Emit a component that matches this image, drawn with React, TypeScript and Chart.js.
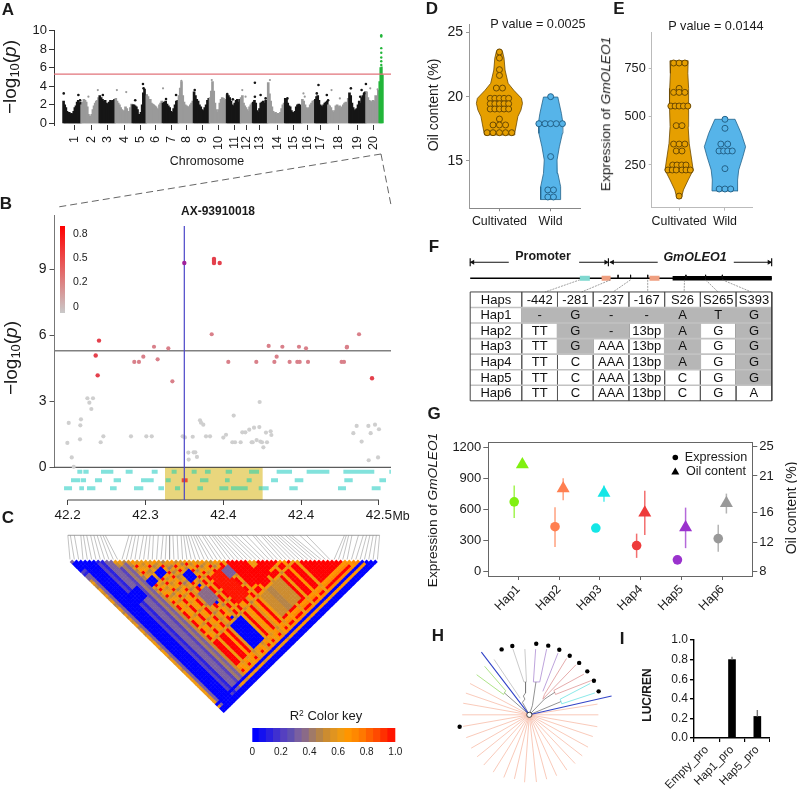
import React, { useEffect, useRef } from 'react';
import { Chart, registerables } from 'chart.js';
Chart.register(...registerables);
Chart.defaults.font.family = "'Liberation Sans', Arial, sans-serif";
Chart.defaults.color = '#1a1a1a';

// ---------- A: Manhattan ----------
const chromLabels = ['1','2','3','4','5','6','7','8','9','10','11','12','13','14','15','16','17','18','19','20'];
const chromTicks = [74,91,107,124,140,155,171,186,202,218,234,246,259,277,293,307,320,338,357,373];
const chromEdges = [63,81,99,115,132,146,162,178,193,209,226,240,252,267,284,301,314,327,348,365,378];
const chromPeaks = [
  [2.4,2.0,1.7,1.3,1.1,1.2,1.0,1.1,1.0,1.3,1.7,1.9,2.3,2.5,2.2,2.3],
  [2.0,2.3,2.6,2.5,2.3,1.8,1.0,0.8,0.8,1.0,1.5,1.9,2.2,2.4,2.5,2.8],
  [3.0,2.8,2.6,2.4,2.5,2.2,2.1,2.3,2.5,2.4,2.5,2.6],
  [2.7,2.4,2.2,2.0,1.7,1.5,1.2,1.4,1.8,1.6,1.3,1.3,1.7,2.1],
  [2.0,2.0,1.9,1.8,1.5,1.0,0.9,1.2,2.0,3.3,3.7,3.0],
  [3.0,2.9,2.6,2.6,2.2,2.1,2.0,1.9,1.8,1.6,1.5,2.0,2.2,2.4],
  [2.2,2.3,2.4,2.1,1.9,1.7,1.3,1.2,1.6,2.0,2.4,2.5],
  [3.0,3.8,4.5,3.0,2.3,2.0,1.9,1.8,1.8,2.0,2.2,2.4],
  [3.4,3.0,2.6,2.4,2.0,1.8,1.5,1.4,1.7,2.0,2.5,2.7],
  [2.8,3.5,4.5,3.5,2.2,1.5,1.2,1.5,2.2,2.6,2.8,2.7,2.5,2.6],
  [3.1,3.0,2.8,2.4,2.0,1.9,2.2,2.5,2.6,2.3,2.6],
  [2.8,3.0,2.2,1.9,1.7,1.5,1.3,1.8,2.0,2.2],
  [2.3,2.5,2.2,1.4,1.2,1.6,2.2,2.3,2.4,2.2,2.5,2.4],
  [4.4,3.2,2.4,1.8,1.3,1.1,1.2,1.0,1.1,1.0,1.2,1.6,2.0,2.2],
  [2.7,2.6,2.2,1.9,1.8,1.4,1.2,1.1,1.3,1.8,2.0,2.1,2.0,1.8],
  [2.6,2.4,2.0,1.7,1.6,1.7,2.0,2.2,2.4,2.5],
  [2.6,2.9,3.0,2.5,2.0,1.9,1.8,2.0,2.2,2.3,2.4],
  [2.0,1.9,1.7,1.4,1.2,1.4,1.9,2.0,1.8,1.9,1.6,1.8,2.0,2.2,2.3,2.2,2.7],
  [3.3,3.0,2.2,1.7,1.4,1.5,1.6,2.0,2.4,2.2,2.8,3.0,3.2,3.4],
  [3.4,2.8,2.5,2.4,2.3,2.5,2.4,3.0,2.8,3.6],
];
const greenPeaks = [[378.6,4.5],[379.6,6.0],[380.6,6.1],[381.6,5.2]];
const blackDots = [[63.7,3.24],[78.3,3.06],[80,2.5],[102.7,3.06],[135,2.5],[142.7,4.24],[143.3,3.78],[165.7,2.63],[175.7,3.06],[194.3,3.6],[226.7,3.17],[232.3,2.6],[254.3,4.39],[260,3.06],[265,2.7],[254.3,2.88],[286.7,2.7],[317.7,4.14],[316,3.24],[326,3.06],[327.3,2.5],[350,3.78],[360.7,3.6],[365,4.24],[363.3,3.24],[359.3,2.88]];
const greyDots = [[88.3,2.88],[97.7,3.6],[116.7,3.6],[126,3.38],[146.7,3.06],[162.7,3.78],[181,4.6],[211.3,4.68],[241.7,3.6],[245,2.88],[269.3,4.68],[302.7,3.24],[304,2.88],[330.7,3.6],[339,2.7],[369.3,3.78],[376.7,3.67]];
const greenDots = [[380.3,9.5],[380.3,9.35],[380.3,8.1],[380.3,7.6],[380.3,7.1],[380.3,6.7],[380.3,6.3]];
const thresholdA = 5.3;

// ---------- B: locus plot (x in kb from 42.2 Mb) ----------
const locusTicks = [0,75,150,225,300];
const locusLabels = ['42.2','42.3','42.4','42.4','42.5'];
const leadSnp = [[112.4,9.29]];
const topSnps = [[141,9.47],[141,9.38],[141,9.29],[146.5,9.29],[293.3,4.05],[30.2,5.76],[27,5.08],[28.9,4.18]];
const redSnps = [[138.8,6.05],[83.2,5.48],[97,5.41],[86.7,4.91],[72.9,5.03],[64.2,4.79],[68.7,4.79],[100.9,3.91],[154.8,4.79],[181.8,4.79],[193.7,5.52],[206.9,5.48],[222.9,5.48],[229.7,5.41],[201.4,5.03],[199.2,4.79],[213.9,4.79],[221.3,4.79],[223.6,4.79],[231.6,4.79],[264,4.79],[266.3,4.79],[269.2,5.48],[269,5.45],[280.8,6.05]];
const greySnps = [[-0.3,1.11],[1,2.02],[3.9,0.45],[5.8,0.02],[11.9,1.27],[12.2,1.91],[12.8,2.18],[19,3.14],[24.4,3.14],[20.9,2.94],[22.8,2.65],[31.8,1.14],[34.4,1.41],[61,1.41],[75.8,1.41],[81,1.41],[110.8,1.41],[113,1.36],[120.5,1.39],[127.5,2.14],[128.5,2.03],[130.7,1.94],[116.3,0.67],[116.6,0.35],[121.4,0.68],[123,0.68],[124.6,0.47],[133.3,1.41],[137.2,1.41],[150,1.35],[152.6,1.48],[158.7,1.14],[161.3,1.14],[160,2.35],[166.7,1.14],[168.3,1.59],[171.2,1.59],[175,1.71],[177.3,1.14],[178.3,1.14],[179.6,1.8],[182.1,1.24],[184.7,1.83],[185,2.97],[185.7,1.17],[187.3,1.14],[188.6,0.91],[191.1,1.58],[192.1,1.14],[195.6,1.64],[196.3,1.47],[275.3,1.55],[278.5,1.88],[283.3,1.17],[289.8,1.88],[290.1,0.32],[292,1.55],[296.2,1.94],[299.1,0.45],[300,1.73]];
const geneRowLevels = [-0.2,-0.59,-0.95];
const genesOutside = [
  [[9.3,14.1],[15.1,20.2],[32.1,44],[55.9,62.6],[81,86.7],[201.4,216.2],[230.3,252.2],[265.7,295.5],[310,311.5]],
  [[3.2,12.2],[12.8,17.7],[26.3,33.1],[44.3,51.4],[70.7,82.9],[196,202.7],[218.8,227.1],[266.6,274.7],[300.4,306.8]],
  [[-3.5,4.2],[11.2,15.7],[18.6,26.7],[40.8,47.2],[63.9,72.9],[87.4,92.8],[187.9,193.7],[213.6,221.7],[260.5,268.2],[293,301.6]],
];
const genesInside = [
  [[100.2,105],[119.5,124.3],[132.3,137.8],[152.3,158.4],[174.8,184.4]],
  [[94.4,99.3],[127.5,135.6],[151.6,156.1],[172.5,177.3]],
  [[103.4,108.3],[125,130.4],[146.2,154.8],[157.4,173.5],[184.1,187.9]],
];
const targetGene = [[109.9,115.6]];
const blockSpan = [93.8,187.9];
const thresholdB = 5.3;
const r2KeyTicks = [0,0.27,0.53,0.8];
const r2KeyLabels = ['0','0.2','0.5','0.8'];

// ---------- C: LD triangle ----------
const snpPositions = [-3.5,-1,2.9,9.3,11.9,15.1,19,22.2,25.4,28.6,31.2,33.4,56.9,60.1,63.3,66.5,71.3,74.5,77.7,81,85.8,90.6,93.8,97,100.2,104.4,108.3,110.8,113.1,115.3,117.9,120.5,122.7,125,129.1,131.4,135.6,138.8,141,144.2,146.8,150.7,153.2,158,161.3,166.7,172.5,178.9,181.5,187,189.5,193.4,196.6,199.8,203,206.2,211,214.3,217.5,225.5,231.9,269.5,271.4,273.7,276.9,283.3,288.1,291.4,294.6,297.8,301,304.2];
const ldTone = [5,3,0,0,0,0,2,1,3,3,5,9,5,4,9,6,5,10,5,6,10,4,5,10,6,4,9,5,10,5,6,10,4,6,10,5,9,10,6,10,10,9,5,10,10,9,5,10,10,6,9,10,5,10,10,10,10,10,10,10,10,10,10,10,6,7,10,7,0,6,0,0];
const ldBlocks = [
  [9,10,14,68,0.3],[10,11,14,68,0.2],[11,12,14,68,0.42],[12,13,14,68,0.3],[13,14,30,68,0.5],
  [29,34.4,36.6,50.1,0.95],[36.5,45.4,52.7,63.1,0.48],[39,41,52.7,63.1,0.44],[53,64,53,64,1],
  [36,48.6,36,48.6,1],[41,42.5,36,49,0.6],[38,44,45,50,1],[33,36,38,42,0.3],[22,26,38,44,0.35],
  [22.4,26.9,53.1,63.6,0],[14.1,19.4,53.1,64,1],[16,17,53,64,0.6],
  [5.1,10.4,21.6,26.9,0],[16.6,19.9,22.6,25.9,0],[12.6,15.6,22.7,25.7,0],[23.1,26.4,30.3,33.6,0],[1.6,5.3,5.7,9.5,0],[1,3.2,2,4,0],
  [24,25,36,37,0],[24,25,44,45,0],[24,25,51,52,0],
];
const keyColors = ['#0000ff','#1410f0','#2a20e0','#3f30d0','#5540c0','#5f50b0','#7a60a0','#8a6a88','#a07a68','#b58448','#cc8c30','#e09420','#f09a10','#ff9500','#ff8800','#ff7800','#ff6000','#ff4a00','#ff3000','#ff1500','#ff0000'];
const keyTicks = [0,0.2,0.4,0.6,0.8,1];
const keyLabels = ['0','0.2','0.4','0.6','0.8','1.0'];

// ---------- D, E: violins ----------
const oilCultivated = [[0,23.47],[0,23],[0,22.1],[0,21.65],[-0.06,20.67],[0.06,20.67],
  [-0.18,19.87],[-0.09,19.87],[0,19.87],[0.09,19.87],[0.18,19.87],[-0.18,19.45],[-0.09,19.45],[0,19.45],[0.09,19.45],[0.18,19.45],
  [-0.18,19.04],[-0.09,19.04],[0,19.04],[0.09,19.04],[0.18,19.04],[0,18.26],[-0.125,17.8],[0,17.8],[0.12,17.8],
  [-0.24,17.2],[-0.125,17.2],[0,17.2],[0.12,17.2],[0.24,17.2]];
const oilWild = [[0,20],[-0.23,17.9],[-0.11,17.9],[0,17.9],[0.11,17.9],[0.23,17.9],[0,15.34],[-0.055,12.75],[0.055,12.75],[-0.055,12.2],[0.055,12.2]];
const oilCultLevels = [23.68,23.5,23,22.07,21.04,20.5,19.87,19.48,18.96,18.45,17.8,17.2,17.02];
const oilCultWidths = [0.03,0.06,0.09,0.11,0.17,0.28,0.43,0.45,0.42,0.36,0.33,0.3,0.29];
const oilWildLevels = [19.97,18.7,17.93,17.15,16.1,15.08,14.04,13,12];
const oilWildWidths = [0.14,0.21,0.24,0.23,0.17,0.125,0.14,0.195,0.195];
const exprCultivated = [[-0.12,781],[0,781],[0.126,781],[0,649],[-0.12,628],[0,628],[0.126,628],
  [-0.18,557],[-0.087,557],[0,557],[0.094,557],[0.19,557],[-0.063,455],[0.063,455],[-0.12,359],[0,359],[0.126,359],[-0.063,323],[0.063,323],
  [-0.14,250],[-0.047,250],[0.055,250],[0.15,250],[-0.244,224],[-0.15,224],[-0.063,224],[0.063,224],[0.15,224],[0.244,224],[0,88]];
const exprWild = [[0,488],[0,441],[-0.09,359],[0.06,359],[-0.13,323],[-0.03,323],[0.06,323],[0.16,323],[0,231],[-0.126,125],[0,125],[0.126,125]];
const exprCultLevels = [793,727,649,554,450,363,276,224,172,120,76];
const exprCultWidths = [0.197,0.19,0.205,0.21,0.197,0.22,0.275,0.307,0.197,0.094,0.047];
const exprWildLevels = [488,415,345,293,224,172,115];
const exprWildWidths = [0.22,0.354,0.45,0.39,0.3,0.276,0.283];
const groupLabels = ['Cultivated','Wild'];

// ---------- F: haplotype table ----------
const tableHeader = ['Haps','-442','-281','-237','-167','S26','S265','S393'];
const tableRows = [
  ['Hap1','-','G','-','-','A','T','G'],
  ['Hap2','TT','G','-','13bp','A','G','G'],
  ['Hap3','TT','G','AAA','13bp','A','G','G'],
  ['Hap4','TT','C','AAA','13bp','A','G','G'],
  ['Hap5','TT','C','AAA','13bp','C','G','G'],
  ['Hap6','TT','C','AAA','13bp','C','G','A'],
];
const greyCells = [[1,1],[1,2],[1,3],[1,4],[1,5],[1,6],[1,7],[2,2],[2,3],[2,5],[2,7],[3,2],[3,5],[3,7],[4,5],[4,7],[5,7]];
const colEdges = [0,1.444,2.444,3.444,4.444,5.444,6.444,7.444,8.444];
const variantMarks = [4.14,4.49,4.97,6.04,6.59,7.06];
const connectors = [[3.07,2.1],[3.93,3.12],[4.49,4.0],[4.97,4.97],[6.0,5.99],[6.59,6.94],[7.06,7.87]];
const tealBoxes = [[3.07,3.35]];
const salmonBoxes = [[3.68,3.93],[5.02,5.3]];

// ---------- G ----------
const hapLabels = ['Hap1','Hap2','Hap3','Hap4','Hap5','Hap6'];
const hapColors = ['#80f010','#ff7f50','#14e6e6','#ee3b3b','#9a32cd','#999999'];
const exprMean = [675,435,422,253,115,320];
const exprLow = [518,240,null,134,null,192];
const exprHigh = [832,624,null,368,null,454];
const oilMean = [22.55,19.3,18.7,16,14,17.3];
const oilLow = [null,17.7,17.5,13,11.2,15.9];
const oilHigh = [null,20.7,19.7,19,16.7,18.6];

// ---------- H: tree ----------
const radialAngles = [152,161,170,180,190,200,210,219,228,238,248,257,266,276,285,294,304,313,322,331,341,350,360,9];
const radialLengths = [71,71,71,71,71,71,71,71,72,72,72,70,72,72,71,71,71,71,71,71,71,73,73,73];
const treeBlue = [[[0,0],[-50.7,66.7]],[[0,0],[87,20]]];
const treeGreen = [[[-47.3,51.7],[-25,25.7],[-27.3,21.7],[-55.7,42.7]]];
const treeTan = [[[-37.3,59],[-9.7,17.7]],[[-17.3,70],[-5.7,35],[-3,35],[-4.7,70]]];
const treePurple = [[[6.7,70],[4.3,35],[11,35],[18.3,70]],[[30.3,65.7],[14.3,25]]];
const treePink = [[[39.3,60],[16,21.7],[14.3,16.7],[49.3,53.3]],[[57.7,43.3],[26,26],[27.7,21.7],[66,36.7]]];
const treeCyan = [[[64.3,33.3],[32.7,16.7],[34.3,11.7],[69.3,23.3]]];
const treeGrey = [[[-26.3,23.3],[0,0]],[[-4,35],[-4,23.3],[-6.3,20],[-4.7,16.7],[-7.3,13.3],[0,0]],[[7,35],[3.3,10],[0,0]],[[27,24],[16,16.7],[0,0]],[[33.3,14],[0,0]]];
const treeLeafDots = [[-29.3,69.7],[-18,73.3],[7.3,75.7],[20,73.7],[31.7,69.3],[42.7,63],[52.7,55.3],[61.3,46.3],[68.3,36.3],[73.3,25],[-73.7,-12.7]];

// ---------- I ----------
const lucLabels = ['Empty_pro','Hap1_pro','Hap5_pro'];
const lucValues = [0,0.8,0.22];
const lucErrors = [0,0.03,0.065];

// ---------- helpers ----------
const pts = (a: number[][]) => a.map(([x, y]) => ({ x, y }));
const segs = (pairs: number[][], y: number) => pairs.flatMap(([a, b]) => [{ x: a, y }, { x: b, y }, { x: b, y: null }]);
const paths = (list: number[][][]) => list.flatMap((p) => [...pts(p), { x: 0, y: null }]);

const line = (data: any[], color: string, width = 1, extra: any = {}) => ({
  type: 'scatter', showLine: true, pointRadius: 0, borderColor: color, borderWidth: width, data, clip: false, ...extra,
});
const dots = (data: any[], fill: any, r = 2, extra: any = {}) => ({
  type: 'scatter', showLine: false, pointRadius: r, pointBackgroundColor: fill, pointBorderWidth: 0, data, ...extra,
});

function axis(o: any) {
  const { min, max, ticks, labels, size, font = 13, rot = 0, border = '#333', borderW = 1, tick = 4, position, pad = 2, color = '#1a1a1a', tickColor } = o;
  return {
    type: 'linear', position, min, max, bounds: 'data', offset: false,
    grid: { display: true, offset: false, drawOnChartArea: false, drawTicks: true, tickLength: tick, color: tickColor || border || 'rgba(0,0,0,0)', lineWidth: borderW },
    border: border ? { display: true, color: border, width: borderW } : { display: false },
    ticks: { autoSkip: false, font: { size: font }, color, padding: pad, maxRotation: rot, minRotation: rot, callback: (v: any, i: number) => (labels ? labels[i] : String(v)) },
    afterBuildTicks: (s: any) => { s.ticks = ticks.map((value: number) => ({ value })); },
    afterFit: (s: any) => {
      if (s.isHorizontal()) s.height = size; else s.width = size;
      s.paddingLeft = s.paddingRight = s.paddingTop = s.paddingBottom = 0;
    },
  };
}
const hidden = (min: number, max: number, reverse = false) => ({ type: 'linear', display: false, min, max, reverse, bounds: 'data', offset: false, grid: { offset: false } });
const options = (padding: any, scales: any) => ({
  responsive: false, maintainAspectRatio: false, animation: false, events: [],
  layout: { padding: { left: 0, right: 0, top: 0, bottom: 0, ...padding } },
  scales,
  plugins: { legend: { display: false }, tooltip: { enabled: false }, title: { display: false } },
});
const closedFill = {
  id: 'closedFill',
  beforeDatasetDraw(chart: any, args: any) {
    const ds = chart.data.datasets[args.index];
    if (!ds.polyFill) return;
    const p = chart.getDatasetMeta(args.index).data;
    const ctx = chart.ctx;
    ctx.save();
    ctx.beginPath();
    p.forEach((e: any, i: number) => (i ? ctx.lineTo(e.x, e.y) : ctx.moveTo(e.x, e.y)));
    ctx.closePath();
    ctx.fillStyle = ds.polyFill;
    ctx.fill();
    ctx.restore();
  },
};

// ---------- chart configs ----------
function configLinks() {
  return {
    type: 'scatter',
    data: { datasets: [
      line(pts([[381, 154], [58, 207]]), '#555', 0.9, { borderDash: [7, 4] }),
      line(pts([[381, 154], [391, 205]]), '#555', 0.9, { borderDash: [7, 4] }),
    ] },
    options: options({}, { x: hidden(0, 797), y: hidden(0, 797, true) }),
  };
}

function configManhattan() {
  const bars: any[] = [];
  const colors: string[] = [];
  chromPeaks.forEach((vals, c) => {
    const a = chromEdges[c], b = chromEdges[c + 1];
    vals.forEach((y, i) => {
      bars.push({ x: a + ((i + 0.5) * (b - a)) / vals.length, y });
      colors.push(c % 2 ? '#9a9a9a' : '#161616');
    });
  });
  return {
    type: 'scatter',
    data: { datasets: [
      line(pts([[54, thresholdA], [390, thresholdA]]), '#e2737a', 1.2),
      dots(pts(greenDots), '#22b53a', 1.2),
      dots(pts(blackDots), '#161616', 1.3),
      dots(pts(greyDots), '#9a9a9a', 1.1),
      { type: 'bar', data: pts(greenPeaks), backgroundColor: '#22b53a', barThickness: 1.6, grouped: false },
      { type: 'bar', data: bars, backgroundColor: colors, barThickness: 2, grouped: false },
    ] },
    options: options({ top: 10.5 }, {
      x: axis({ min: 54, max: 390, ticks: chromTicks, labels: chromLabels, size: 45, font: 12.5, rot: 90, border: null, tickColor: '#333', tick: 5, pad: 6 }),
      y: axis({ min: -0.16, max: 10, ticks: [0, 2, 4, 6, 8, 10], size: 34, font: 13, border: '#333', tick: 5, pad: 2 }),
    }),
  };
}

function configLocus() {
  const kbMin = -12.7, kbMax = 311.6, yMin = -1.486, yMax = 11.47;
  return {
    type: 'scatter',
    data: { datasets: [
      dots(pts(leadSnp), '#a0209a', 2.2),
      line(pts([[112.4, 10.97], [112.4, yMin]]), '#4a46c8', 1.2),
      dots(pts(topSnps), '#e4404c', 2.2),
      dots(pts(redSnps), '#d9808a', 2.1),
      dots(pts(greySnps), '#cfcfcf', 2.1),
      line(segs(targetGene, geneRowLevels[1]), '#ee4a30', 4),
      ...genesInside.map((g, i) => line(segs(g, geneRowLevels[i]), '#78d39a', 4)),
      ...genesOutside.map((g, i) => line(segs(g, geneRowLevels[i]), '#82e2dc', 4)),
      line(pts([[kbMin, thresholdB], [kbMax, thresholdB]]), '#808080', 1.6),
      line(pts([[kbMin, 0], [kbMax, 0]]), '#333', 1),
      line(pts([[kbMin, 0], [kbMin, yMax]]), '#777', 1),
      line(pts([[0, yMin], [300, yMin]]), '#444', 1),
      { ...line(pts([[blockSpan[0], 0], [blockSpan[1], 0], [blockSpan[1], yMin], [blockSpan[0], yMin]]), 'rgba(0,0,0,0)', 0), polyFill: '#e9d67d' },
    ] },
    options: options({ top: 10 }, {
      x: axis({ min: kbMin, max: kbMax, ticks: locusTicks, labels: locusLabels, size: 25, font: 13.5, border: null, tickColor: '#444', tick: 5, pad: 2 }),
      y: axis({ min: yMin, max: yMax, ticks: [0, 3, 6, 9], size: 34.5, font: 14, border: null, tickColor: '#555', tick: 5, pad: 3 }),
    }),
    plugins: [closedFill],
  };
}

function configR2Key() {
  return {
    type: 'bar',
    data: { labels: ['r2'], datasets: [{
      data: [[-0.07, 0.888]], barThickness: 5,
      backgroundColor: (ctx: any) => {
        const ca = ctx.chart.chartArea;
        if (!ca) return '#ccc';
        const g = ctx.chart.ctx.createLinearGradient(0, ca.bottom, 0, ca.top);
        g.addColorStop(0, '#c9c9c9'); g.addColorStop(1, '#ff0000');
        return g;
      },
    }] },
    options: options({}, {
      x: { type: 'category', display: false, offset: true },
      y: axis({ min: -0.07, max: 0.888, ticks: r2KeyTicks, labels: r2KeyLabels, size: 30, font: 10.5, border: null, tickColor: 'rgba(0,0,0,0)', tick: 0, pad: 8, position: 'right' }),
    }),
  };
}

function ldLevel(i: number, j: number) {
  let v = -1;
  ldBlocks.forEach(([a, b, c, d, val]) => {
    if (i + 0.5 >= a && i + 0.5 <= b && j + 0.5 >= c && j + 0.5 <= d) v = val;
  });
  if (v >= 0) return v;
  const a = ldTone[i], b = ldTone[j];
  if (Math.min(a, b) <= 3) return Math.min(a, b) / 10;
  if (a >= 9 && b >= 9) return 1;
  return (Math.min(a, 7) + Math.min(b, 7)) / 20;
}

function configLD() {
  const n = snpPositions.length;
  const baseStart = -3.5, step = 307.7 / n;
  const baseX = (i: number) => baseStart + (i + 0.5) * step;
  const cells: any[] = [];
  const colors: string[] = [];
  for (let i = 0; i < n; i++) for (let j = i + 1; j < n; j++) {
    cells.push({ x: (baseX(i) + baseX(j)) / 2, y: (baseX(j) - baseX(i)) / 2 });
    colors.push(keyColors[Math.round(ldLevel(i, j) * 20)]);
  }
  const topY = -24.7, baseY = -0.4;
  const links = snpPositions.flatMap((p, i) => [{ x: p, y: topY }, { x: baseX(i), y: baseY }, { x: p, y: null }]);
  return {
    type: 'scatter',
    data: { datasets: [
      dots(cells, colors, 2.45, { pointStyle: 'rectRot', clip: false }),
      line(pts([[snpPositions[0], topY], [snpPositions[n - 1], topY]]), '#888', 0.8),
      line(links, '#9a9a9a', 0.6),
    ] },
    options: options({}, { x: hidden(-13.2, 311.5), y: hidden(-26, 157.1, true) }),
  };
}

function configColorKey() {
  const bars = keyColors.slice(0, 20).map((_, i) => ({ x: (i + 0.5) * 0.05, y: 1 }));
  return {
    type: 'scatter',
    data: { datasets: [{ type: 'bar', data: bars, backgroundColor: keyColors.slice(0, 20), barThickness: 8, grouped: false }] },
    options: options({ left: 12.3, right: 14.7 }, {
      x: axis({ min: 0, max: 1, ticks: keyTicks, labels: keyLabels, size: 22, font: 10, border: null, tickColor: 'rgba(0,0,0,0)', tick: 1, pad: 3 }),
      y: hidden(0, 1),
    }),
  };
}

function violinOutline(center: number, levels: number[], widths: number[]) {
  const left = levels.map((y, i) => ({ x: center - widths[i], y }));
  const right = levels.map((y, i) => ({ x: center + widths[i], y })).reverse();
  return [...left, ...right, left[0]];
}
const shift = (a: number[][], c: number) => a.map(([o, y]) => ({ x: c + o, y }));

function configViolin(o: any) {
  const orange = '#e69f00', orangeLine = '#6d4a00', blue = '#56b4e9', blueLine = '#24638a';
  return {
    type: 'scatter',
    data: { datasets: [
      dots(shift(o.cultDots, 1), orange, 3, { pointBorderColor: orangeLine, pointBorderWidth: 1 }),
      dots(shift(o.wildDots, 2), blue, 3, { pointBorderColor: blueLine, pointBorderWidth: 1 }),
      { ...line(violinOutline(1, o.cultLevels, o.cultWidths), orangeLine, 0.8), polyFill: orange },
      { ...line(violinOutline(2, o.wildLevels, o.wildWidths), blueLine, 0.8), polyFill: blue },
    ] },
    options: options({ top: o.top }, {
      x: axis({ min: o.xMin, max: o.xMax, ticks: [1, 2], labels: groupLabels, size: o.xSize, font: 12.4, border: o.xBorder, tick: 3, pad: 3 }),
      y: axis({ min: o.yMin, max: o.yMax, ticks: o.yTicks, size: o.ySize, font: o.yFont, border: o.yBorder, tick: 3, pad: 3 }),
    }),
    plugins: [closedFill],
  };
}
const configViolinD = () => configViolin({
  top: 9, xMin: 0.406, xMax: 2.573, xSize: 21.7, ySize: 49, yFont: 14, xBorder: '#888', yBorder: '#999',
  yMin: 11.32, yMax: 25.65, yTicks: [15, 20, 25],
  cultDots: oilCultivated, wildDots: oilWild, cultLevels: oilCultLevels, cultWidths: oilCultWidths, wildLevels: oilWildLevels, wildWidths: oilWildWidths,
});
const configViolinE = () => configViolin({
  top: 12.3, xMin: 0.402, xMax: 2.59, xSize: 24.3, ySize: 39.7, yFont: 12.7, xBorder: '#bbb', yBorder: '#bbb',
  yMin: 27.6, yMax: 941, yTicks: [250, 500, 750],
  cultDots: exprCultivated, wildDots: exprWild, cultLevels: exprCultLevels, cultWidths: exprCultWidths, wildLevels: exprWildLevels, wildWidths: exprWildWidths,
});

function configTable() {
  const textPlugin = {
    id: 'tableText',
    afterDatasetsDraw(chart: any) {
      const { ctx, scales: { x, y } } = chart;
      ctx.save();
      ctx.font = "13px 'Liberation Sans', Arial, sans-serif";
      ctx.fillStyle = '#111';
      ctx.textAlign = 'center';
      ctx.textBaseline = 'middle';
      [tableHeader, ...tableRows].forEach((row, r) => row.forEach((t, c) => {
        ctx.fillText(t, x.getPixelForValue((colEdges[c] + colEdges[c + 1]) / 2), y.getPixelForValue(r + 0.5) + 0.5);
      }));
      ctx.restore();
    },
  };
  const geneY = -0.88, arrowY = -1.91, top = 0, bottom = tableRows.length + 1, right = colEdges[colEdges.length - 1];
  const arrowHeads = [[0.07, arrowY, -90], [3.8, arrowY, 90], [3.98, arrowY, -90], [8.37, arrowY, 90]];
  return {
    type: 'scatter',
    data: { datasets: [
      line(pts([[0, top], [right, top], [right, bottom], [0, bottom], [0, top]]), '#444', 1),
      line(segs([[0, right]], 1).concat(segs([[0, right]], 2), segs([[0, right]], 3), segs([[0, right]], 4), segs([[0, right]], 5), segs([[0, right]], 6)), '#c2c2c2', 1.6),
      { type: 'bar', data: greyCells.map(([r, c]) => ({ x: (colEdges[c] + colEdges[c + 1]) / 2, y: [r, r + 1] })), backgroundColor: '#b6b6b6', barThickness: 36.5, grouped: false },
      line(colEdges.slice(1, -1).flatMap((x) => [{ x, y: top }, { x, y: bottom }, { x, y: null }]), '#555', 0.8),
      line(connectors.flatMap(([a, b]) => [{ x: a, y: geneY + 0.1 }, { x: b, y: top }, { x: a, y: null }]), '#777', 0.7, { borderDash: [2, 1] }),
      line(variantMarks.flatMap((x) => [{ x, y: geneY - 0.22 }, { x, y: geneY }, { x, y: null }]), '#111', 1),
      line(segs(tealBoxes, geneY), '#7fd8d0', 5),
      line(segs(salmonBoxes, geneY), '#ef9f80', 5),
      line(segs([[5.667, right]], geneY), '#000', 4.5),
      line(segs([[0, right]], geneY), '#000', 1.5),
      dots(arrowHeads.map(([x, y]) => ({ x, y })), '#111', 3, { pointStyle: 'triangle', rotation: arrowHeads.map((a) => a[2]), clip: false }),
      dots(pts([[0, arrowY], [3.87, arrowY], [8.44, arrowY]]), '#111', 4, { pointStyle: 'line', rotation: 90, pointBorderWidth: 1.2, pointBorderColor: '#111', clip: false }),
      line(segs([[0, 1.08], [3.05, 3.83], [3.91, 5.25], [7.38, 8.43]], arrowY), '#111', 1),
    ] },
    options: options({ left: 4, right: 4, bottom: 4.3 }, { x: hidden(0, right), y: hidden(-2.364, bottom, true) }),
    plugins: [textPlugin],
  };
}

function configHapChart() {
  const errs: any[] = [];
  hapColors.forEach((c, i) => {
    if (oilLow[i] !== null) errs.push(line(pts([[i + 1.1, oilLow[i] as number], [i + 1.1, oilHigh[i] as number]]), c + 'bb', 1.5, { yAxisID: 'y2' }));
    if (exprLow[i] !== null) errs.push(line(pts([[i + 0.9, exprLow[i] as number], [i + 0.9, exprHigh[i] as number]]), c + 'bb', 1.5));
  });
  const legendMarks = {
    id: 'legendMarks',
    afterDatasetsDraw(chart: any) {
      const ctx = chart.ctx, a = chart.chartArea;
      const x = a.right - 77;
      ctx.save();
      ctx.fillStyle = '#000';
      ctx.beginPath(); ctx.arc(x, a.top + 15, 2.8, 0, Math.PI * 2); ctx.fill();
      ctx.beginPath(); ctx.moveTo(x, a.top + 25); ctx.lineTo(x + 4, a.top + 32); ctx.lineTo(x - 4, a.top + 32); ctx.closePath(); ctx.fill();
      ctx.restore();
    },
  };
  return {
    type: 'scatter',
    data: { datasets: [
      dots(oilMean.map((y, i) => ({ x: i + 1.1, y })), hapColors, 7.5, { pointStyle: 'triangle', yAxisID: 'y2' }),
      dots(exprMean.map((y, i) => ({ x: i + 0.9, y })), hapColors, 4.8),
      ...errs,
      line(pts([[0.265, 1248], [6.735, 1248]]), '#666', 1),
    ] },
    options: options({ top: 6.7 }, {
      x: axis({ min: 0.265, max: 6.735, ticks: [1, 2, 3, 4, 5, 6], labels: hapLabels, size: 44, font: 12.5, rot: 45, border: '#666', tick: 4, pad: 2 }),
      y: axis({ min: -41, max: 1248, ticks: [0, 300, 600, 900, 1200], size: 48.3, font: 13, border: '#666', tick: 5, pad: 2 }),
      y2: axis({ min: 7.42, max: 25.54, ticks: [8, 12, 16, 21, 25], size: 32.7, font: 13, border: '#666', tick: 5, pad: 2, position: 'right' }),
    }),
    plugins: [legendMarks],
  };
}

function configTree() {
  const spokes = radialAngles.flatMap((a, i) => [
    { x: 0, y: 0 },
    { x: radialLengths[i] * Math.cos((a * Math.PI) / 180), y: radialLengths[i] * Math.sin((a * Math.PI) / 180) },
    { x: 0, y: null },
  ]);
  return {
    type: 'scatter',
    data: { datasets: [
      dots(pts(treeLeafDots), '#000', 2.2),
      dots([{ x: 0, y: 0 }], '#fff', 2.6, { pointBorderColor: '#333', pointBorderWidth: 0.9 }),
      line(paths(treeBlue), '#3345c8', 1.1),
      line(paths(treeGrey), '#777', 0.8),
      line(paths(treeGreen), '#a5e07a', 0.9),
      line(paths(treeTan), '#bdbdbd', 0.8),
      line(paths(treePurple), '#b79ad8', 0.9),
      line(paths(treePink), '#e2a3a3', 0.9),
      line(paths(treeCyan), '#7fe6e6', 0.9),
      line(spokes, '#f6b39c', 0.7),
    ] },
    options: options({}, { x: hidden(-84, 96), y: hidden(-77, 83) }),
  };
}

function configLuc() {
  const errorLines = lucLabels.map((l, i) => ({
    type: 'line', data: [{ x: l, y: lucValues[i] }, { x: l, y: lucValues[i] + lucErrors[i] }],
    borderColor: '#777', borderWidth: 1.4, pointRadius: 0,
  }));
  const afterFit = (s: any) => { s.height = 59; s.paddingLeft = s.paddingRight = s.paddingTop = s.paddingBottom = 0; };
  return {
    type: 'bar',
    data: { labels: lucLabels, datasets: [
      ...errorLines,
      { type: 'bar', data: lucValues, backgroundColor: '#000', barThickness: 7 },
    ] },
    options: options({ top: 10 }, {
      x: {
        type: 'category', offset: true, afterFit,
        grid: { offset: true, drawOnChartArea: false, drawTicks: true, tickLength: 4, color: '#000', lineWidth: 1.2 },
        border: { display: true, color: '#000', width: 1.4 },
        ticks: { autoSkip: false, font: { size: 11.5 }, maxRotation: 45, minRotation: 45, padding: 1, color: '#1a1a1a' },
      },
      y: axis({ min: 0, max: 1, ticks: [0, 0.2, 0.4, 0.6, 0.8, 1], labels: ['0.0', '0.2', '0.4', '0.6', '0.8', '1.0'], size: 64, font: 12, border: '#000', borderW: 1.4, tick: 4, pad: 2 }),
    }),
  };
}

// ---------- layout ----------
const panels: { box: number[]; make: () => any }[] = [
  { box: [0, 0, 797, 797], make: configLinks },
  { box: [20, 20, 375, 150], make: configManhattan },
  { box: [20, 205, 375, 320], make: configLocus },
  { box: [60, 226, 35, 87], make: configR2Key },
  { box: [54, 530, 337, 190], make: configLD },
  { box: [240, 728, 170, 36], make: configColorKey },
  { box: [420, 15, 165, 215], make: configViolinD },
  { box: [612, 20, 145, 212], make: configViolinE },
  { box: [465, 250, 312, 156], make: configTable },
  { box: [440, 435, 345, 185], make: configHapChart },
  { box: [445, 632, 180, 160], make: configTree },
  { box: [630, 630, 140, 167.3], make: configLuc },
];

function Panel({ box, make }: { box: number[]; make: () => any }) {
  const ref = useRef<HTMLCanvasElement>(null);
  useEffect(() => {
    const c = new Chart(ref.current as any, make());
    return () => c.destroy();
  }, []);
  const [l, t, w, h] = box;
  return <canvas ref={ref} width={w} height={h} style={{ position: 'absolute', left: l, top: t, width: w, height: h }} />;
}

function T({ x, y, size = 12.4, rot = 0, bold = false, children }: any) {
  return (
    <div style={{
      position: 'absolute', left: x, top: y, transform: `translate(-50%,-50%) rotate(${rot}deg)`, whiteSpace: 'nowrap',
      fontSize: size, lineHeight: 1, fontWeight: bold ? 700 : 400, color: '#1a1a1a', fontFamily: "'Liberation Sans', Arial, sans-serif",
    }}>{children}</div>
  );
}
const LogP = () => <span>−log<sub style={{ fontSize: '0.68em', verticalAlign: '-0.25em' }}>10</sub>(<i>p</i>)</span>;
const Gm = () => <span>Expression of <i>GmOLEO1</i></span>;

export default function App() {
  return (
    <div style={{ position: 'absolute', left: 0, top: 0, width: 797, height: 797, overflow: 'hidden', background: '#fff' }}>
      {panels.map((p, i) => <Panel key={i} box={p.box} make={p.make} />)}
      <T x={8} y={9} size={17} bold>A</T>
      <T x={6} y={203} size={17} bold>B</T>
      <T x={8} y={517} size={17} bold>C</T>
      <T x={432} y={8} size={17} bold>D</T>
      <T x={619} y={8} size={17} bold>E</T>
      <T x={434} y={246} size={17} bold>F</T>
      <T x={434} y={413} size={17} bold>G</T>
      <T x={438} y={635} size={17} bold>H</T>
      <T x={622} y={638} size={17} bold>I</T>
      <T x={11} y={77} size={19} rot={-90}><LogP /></T>
      <T x={12} y={358} size={19} rot={-90}><LogP /></T>
      <T x={207} y={161}>Chromosome</T>
      <T x={218} y={211} size={12} bold>AX-93910018</T>
      <T x={401} y={516} size={12.4}>Mb</T>
      <T x={326} y={715} size={13}>R<sup style={{ fontSize: '0.65em', verticalAlign: '0.45em' }}>2</sup> Color key</T>
      <T x={538} y={24} size={12.7}>P value = 0.0025</T>
      <T x={716} y={26} size={12.7}>P value = 0.0144</T>
      <T x={433} y={105} size={14} rot={-90}>Oil content (%)</T>
      <T x={606} y={114} size={13.7} rot={-90}><Gm /></T>
      <T x={543} y={255.5} size={12.5} bold>Promoter</T>
      <T x={695} y={256.5} size={12.5} bold><i>GmOLEO1</i></T>
      <T x={433} y={510} size={13.7} rot={-90}><Gm /></T>
      <T x={791} y={508} size={14} rot={-90}>Oil content (%)</T>
      <T x={716} y={457} size={12.6}>Expression</T>
      <T x={716} y={471} size={12.6}>Oil content</T>
      <T x={647} y={695} size={12} bold rot={-90}>LUC/REN</T>
    </div>
  );
}
